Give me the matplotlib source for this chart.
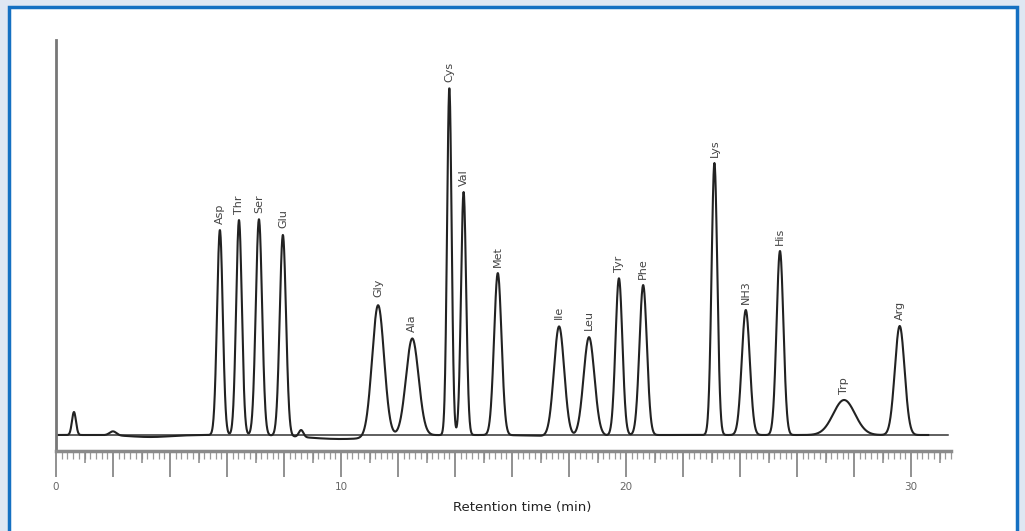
import numpy as np
import matplotlib
matplotlib.use("Agg")
import matplotlib.pyplot as plt
from matplotlib.patches import Rectangle
from matplotlib.ticker import MultipleLocator, FuncFormatter

# peaks (retention time in min, height, width sigma in min)
names = ["", "", "Asp", "Thr", "Ser", "Glu", "", "Gly", "Ala", "Cys", "Val", "Met",
         "Ile", "Leu", "Tyr", "Phe", "Lys", "NH3", "His", "Trp", "Arg"]
rt = [0.63, 2.0, 5.75, 6.42, 7.12, 7.96, 8.6, 11.3, 12.5, 13.8, 14.3, 15.5,
      17.65, 18.7, 19.75, 20.6, 23.1, 24.2, 25.4, 27.65, 29.6]
height = [23, 4, 205, 215, 216, 201, 7, 132, 97, 347, 243, 162,
          110, 99, 157, 150, 272, 125, 184, 35, 109]
sigma = [0.07, 0.12, 0.1, 0.1, 0.11, 0.11, 0.08, 0.21, 0.22, 0.08, 0.09, 0.13,
         0.18, 0.19, 0.12, 0.13, 0.1, 0.14, 0.12, 0.38, 0.17]
# slow baseline drift (centre, depth, width)
drift = [(3.3, -2, 0.7), (10.0, -4, 1.2), (18.0, -1.5, 1.0)]

t = np.linspace(0, 30.6, 4000)
sig = np.zeros_like(t)
for r, h, s in zip(rt, height, sigma):
    sig += h*np.exp(-0.5*((t-r)/s)**2)
for c, d, w in drift:
    sig += d*np.exp(-0.5*((t-c)/w)**2)

W, H = 1025, 531
fig = plt.figure(figsize=(10.25, 5.31), dpi=100)
fig.patch.set_facecolor("#dfe7f3")

# white panel with blue frame
bg = fig.add_axes([0, 0, 1, 1])
bg.set_xlim(0, W)
bg.set_ylim(H, 0)
bg.axis("off")
bg.add_patch(Rectangle((8.5, 6.5), 1008, H, facecolor="white",
                       edgecolor="#1570c2", linewidth=2.5))

ax = fig.add_axes([56/W, (H-451)/H, 895/W, (451-40)/H])
ax.set_facecolor("none")
ax.set_xlim(0, 31.4)
ax.set_ylim(-16, 395)

ax.plot([0, 31.3], [0, 0], color="#333333", lw=1.1)
ax.plot(t, sig, color="#222222", lw=1.5)

for n, r, h in zip(names, rt, height):
    if n:
        ax.text(r, h+6, n, rotation=90, ha="center", va="bottom",
                fontsize=8, color="#444444")

ax.spines["top"].set_visible(False)
ax.spines["right"].set_visible(False)
ax.spines["left"].set_color("#777777")
ax.spines["left"].set_linewidth(2)
ax.spines["bottom"].set_color("#8a8a8a")
ax.spines["bottom"].set_linewidth(2.5)
ax.set_yticks([])

ax.xaxis.set_major_locator(MultipleLocator(2))
ax.xaxis.set_minor_locator(MultipleLocator(0.2))
ax.xaxis.set_major_formatter(FuncFormatter(lambda v, p: f"{v:.0f}" if v % 10 == 0 else ""))
ax.tick_params(axis="x", which="major", length=19, width=1.3, color="#888888",
               labelsize=7.5, labelcolor="#666666", pad=3)
ax.tick_params(axis="x", which="minor", length=6, width=0.9, color="#999999")
# medium ticks on odd minutes
ax.vlines(np.arange(1, 32, 2), -16-12*411/412, -16, color="#888888", lw=1.1, clip_on=False)

fig.text(522/W, 1-507/H, "Retention time (min)", ha="center", va="center",
         fontsize=9.5, color="#222222",
         fontfamily=["Liberation Sans Narrow", "DejaVu Sans"])

plt.savefig("out.png", dpi=100, facecolor=fig.get_facecolor())
